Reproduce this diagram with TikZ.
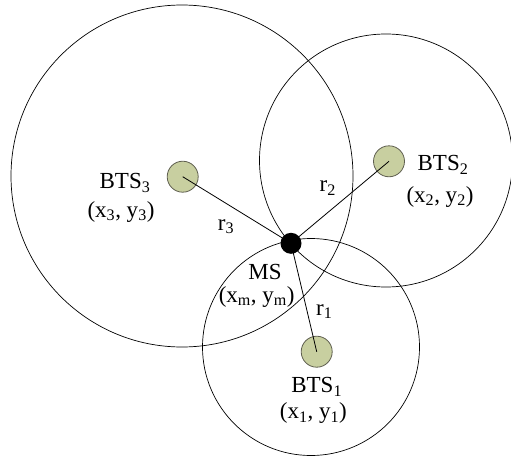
\documentclass[tikz,border=0pt]{standalone}
\usepackage{fontspec}
\setmainfont{Liberation Serif}
\usetikzlibrary{positioning}
\definecolor{btsgreen}{RGB}{200,207,160}
\definecolor{btsedge}{RGB}{95,95,80}
\tikzset{
station/.style={circle,draw=btsedge,fill=btsgreen,line width=.8pt,minimum size=31pt,inner sep=0pt},
mobile/.style={circle,fill=black,minimum size=21pt,inner sep=0pt},
coverage/.style={draw,line width=.7pt},
distline/.style={line width=.8pt},
txt/.style={font=\fontsize{23}{26}\selectfont,inner sep=0pt}
}

\begin{document}
\begin{tikzpicture}[x=1pt,y=-1pt]
\useasboundingbox (0,0) rectangle (511,455);
% coverage circles
\coordinate (c3) at (182,176);
\coordinate (c2) at (386,160.5);
\coordinate (c1) at (311,347);
\draw[coverage](c3) circle[radius=171pt];
\draw[coverage](c2) circle[radius=126.5pt];
\draw[coverage](c1) circle[radius=108.5pt];
% stations
\node[station](bts3) at (182.7,176.7){};
\node[station](bts2) at (389,161.3){};
\node[station](bts1) at (316.7,351.7){};
\coordinate (mspos) at (291,243.3);
\draw[distline](bts3.center)--(mspos);
\draw[distline](bts2.center)--(mspos);
\draw[distline](bts1.center)--(mspos);
\node[mobile](ms) at (mspos){};
% labels
\node[txt](bts3l) at (125,182.7){BTS\textsubscript{3}};
\node[txt](xy3) at (121,211.7){(x\textsubscript{3}, y\textsubscript{3})};
\node[txt](bts2l) at (443,165){BTS\textsubscript{2}};
\node[txt](xy2) at (440,196.7){(x\textsubscript{2}, y\textsubscript{2})};
\node[txt](bts1l) at (316.7,386.7){BTS\textsubscript{1}};
\node[txt](xy1) at (313.3,413.3){(x\textsubscript{1}, y\textsubscript{1})};
\node[txt](msl) at (265,271.7){MS};
\node[txt](xym) at (256.7,296.7){(x\textsubscript{m}, y\textsubscript{m})};
\node[txt](r3) at (226,226.7){r\textsubscript{3}};
\node[txt](r2) at (327.7,188.3){r\textsubscript{2}};
\node[txt](r1) at (324.3,311.7){r\textsubscript{1}};
\end{tikzpicture}
\end{document}
